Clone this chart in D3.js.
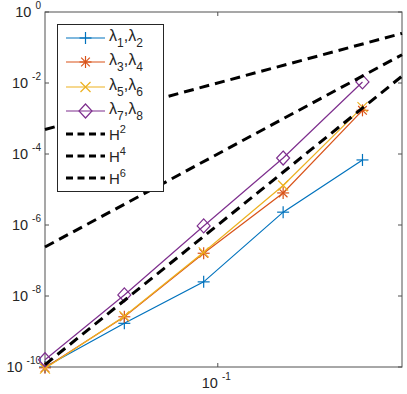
<!DOCTYPE html>
<html>
<head>
<meta charset="utf-8">
<script src="https://cdn.jsdelivr.net/npm/d3@7"></script>
<style>
  body { margin: 0; background: #fff; }
  svg { display: block; font-family: "Liberation Sans", Arial, sans-serif; }
</style>
</head>
<body>
<svg id="chart" width="407" height="394"></svg>
<script>
// mesh sizes (diagonal of the square cells)
const hVals = [0.0221, 0.0442, 0.0884, 0.177, 0.354];
const lam12 = [1.0e-10, 1.7e-9, 2.5e-8, 2.3e-6, 6.8e-5];
const lam34 = [0.95e-10, 2.6e-9, 1.6e-7, 8.0e-6, 1.7e-3];
const lam56 = [0.9e-10, 2.7e-9, 1.7e-7, 1.3e-5, 2.1e-3];
const lam78 = [1.6e-10, 1.07e-8, 9.4e-7, 7.7e-5, 1.07e-2];

// reference slopes, evaluated at the two ends of the axis
const hRef = [0.0221, 0.5];
const refH2 = [4.9e-4, 0.25];
const refH4 = [2.4e-7, 0.0625];
const refH6 = [1.17e-10, 0.0156];

const yTicks = [1, 1e-2, 1e-4, 1e-6, 1e-8, 1e-10];
const yTickExp = ["0", "-2", "-4", "-6", "-8", "-10"];
const xTicks = [0.1];
const xTickExp = ["-1"];

const series = [
  { sub: ["1", "2"], vals: lam12, color: "#0072BD", marker: "plus" },
  { sub: ["3", "4"], vals: lam34, color: "#D95319", marker: "star" },
  { sub: ["5", "6"], vals: lam56, color: "#EDB120", marker: "cross" },
  { sub: ["7", "8"], vals: lam78, color: "#7E2F8E", marker: "diamond" }
];
const refs = [
  { p: "2", vals: refH2 },
  { p: "4", vals: refH4 },
  { p: "6", vals: refH6 }
];

const m = { left: 45, right: 402, top: 12, bottom: 367 };
const svg = d3.select("#chart");

const x = d3.scaleLog().domain([0.0221, 0.5]).range([m.left, m.right]);
const y = d3.scaleLog().domain([1e-10, 1]).range([m.bottom, m.top]);

const axisColor = "#505050";
const textColor = "#262626";

// frame (box on)
svg.append("rect")
  .attr("x", m.left).attr("y", m.top)
  .attr("width", m.right - m.left).attr("height", m.bottom - m.top)
  .attr("fill", "none").attr("stroke", axisColor).attr("stroke-width", 1);

// ticks, inward on both sides
yTicks.forEach((t, i) => {
  const yy = y(t);
  svg.append("line").attr("x1", m.left).attr("x2", m.left + 4).attr("y1", yy).attr("y2", yy)
    .attr("stroke", axisColor);
  svg.append("line").attr("x1", m.right).attr("x2", m.right - 4).attr("y1", yy).attr("y2", yy)
    .attr("stroke", axisColor);
  const txt = svg.append("text")
    .attr("x", 41).attr("y", yy + 5)
    .attr("text-anchor", "end")
    .attr("fill", textColor)
    .attr("font-size", 14.5);
  txt.append("tspan").text("10 ");
  txt.append("tspan").attr("dy", -8).attr("font-size", 10).text(yTickExp[i]);
});

xTicks.forEach((t, i) => {
  const xx = x(t);
  svg.append("line").attr("x1", xx).attr("x2", xx).attr("y1", m.bottom).attr("y2", m.bottom - 4)
    .attr("stroke", axisColor);
  svg.append("line").attr("x1", xx).attr("x2", xx).attr("y1", m.top).attr("y2", m.top + 4)
    .attr("stroke", axisColor);
  const txt = svg.append("text")
    .attr("x", xx - 16).attr("y", 388)
    .attr("fill", textColor)
    .attr("font-size", 14.5);
  txt.append("tspan").text("10 ");
  txt.append("tspan").attr("dy", -8).attr("font-size", 10).text(xTickExp[i]);
});

// marker shapes
function marker(g, type, cx, cy, color) {
  const s = 6;
  const add = (x1, y1, x2, y2) => g.append("line")
    .attr("x1", x1).attr("y1", y1).attr("x2", x2).attr("y2", y2)
    .attr("stroke", color).attr("stroke-width", 1.2);
  if (type === "plus" || type === "star") {
    add(cx - s, cy, cx + s, cy);
    add(cx, cy - s, cx, cy + s);
  }
  if (type === "star") {
    add(cx - s * 0.72, cy - s * 0.72, cx + s * 0.72, cy + s * 0.72);
    add(cx - s * 0.72, cy + s * 0.72, cx + s * 0.72, cy - s * 0.72);
  }
  if (type === "cross") {
    add(cx - 5, cy - 5, cx + 5, cy + 5);
    add(cx - 5, cy + 5, cx + 5, cy - 5);
  }
  if (type === "diamond") {
    g.append("path")
      .attr("d", `M${cx},${cy - 7}L${cx + 6.5},${cy}L${cx},${cy + 7}L${cx - 6.5},${cy}Z`)
      .attr("fill", "none").attr("stroke", color).attr("stroke-width", 1.2);
  }
}

const plot = svg.append("g");
const line = d3.line().x(d => x(d[0])).y(d => y(d[1]));

series.forEach(s => {
  const pts = hVals.map((h, i) => [h, s.vals[i]]);
  plot.append("path")
    .attr("d", line(pts))
    .attr("fill", "none").attr("stroke", s.color).attr("stroke-width", 1.2);
  pts.forEach(p => marker(plot, s.marker, x(p[0]), y(p[1]), s.color));
});

refs.forEach(r => {
  const pts = hRef.map((h, i) => [h, r.vals[i]]);
  plot.append("path")
    .attr("d", line(pts))
    .attr("fill", "none").attr("stroke", "#000")
    .attr("stroke-width", 3).attr("stroke-dasharray", "10,6");
});

// legend
const lg = svg.append("g");
lg.append("rect")
  .attr("x", 57.5).attr("y", 24.5).attr("width", 106).attr("height", 167)
  .attr("fill", "#fff").attr("stroke", "#262626").attr("stroke-width", 1);

const rowY = [38, 62, 87, 111, 134, 156, 178];
series.forEach((s, i) => {
  const yy = rowY[i];
  lg.append("line").attr("x1", 66).attr("x2", 105).attr("y1", yy).attr("y2", yy)
    .attr("stroke", s.color).attr("stroke-width", 1.2);
  marker(lg, s.marker, 85.5, yy, s.color);
  const t = lg.append("text").attr("x", 109).attr("y", yy + 3)
    .attr("fill", textColor).attr("font-size", 16);
  t.append("tspan").text("\u03bb");
  t.append("tspan").attr("dy", 6).attr("font-size", 12).text(s.sub[0]);
  t.append("tspan").attr("dy", -6).text(",\u03bb");
  t.append("tspan").attr("dy", 6).attr("font-size", 12).text(s.sub[1]);
});
refs.forEach((r, i) => {
  const yy = rowY[4 + i];
  lg.append("line").attr("x1", 66).attr("x2", 105).attr("y1", yy).attr("y2", yy)
    .attr("stroke", "#000").attr("stroke-width", 3).attr("stroke-dasharray", "7,4.5");
  const t = lg.append("text").attr("x", 109).attr("y", yy + 6)
    .attr("fill", textColor).attr("font-size", 15);
  t.append("tspan").text("H");
  t.append("tspan").attr("dy", -7).attr("font-size", 11).text(r.p);
});
</script>
</body>
</html>
